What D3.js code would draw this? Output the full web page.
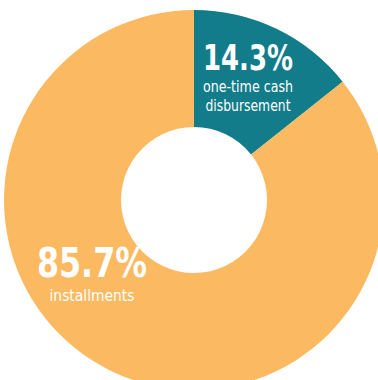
<!DOCTYPE html>
<html>
<head>
    <meta charset="utf-8">
    <script src="https://d3js.org/d3.v7.min.js"></script>
    <style>
        body { margin: 0; background: #fff; }
        text { fill: #fff; font-family: "Liberation Sans Narrow", "DejaVu Sans Condensed", "DejaVu Sans", sans-serif; }
        .pct { font-weight: bold; }
    </style>
</head>
<body>
<script>
// chart data
var categories = ["one-time cash disbursement", "installments"];
var values = [14.3, 85.7];
var pctLabels = ["14.3%", "85.7%"];
var subLabels = [["one-time cash", "disbursement"], ["installments"]];
var colours = ["#127c8a", "#fbba62"];

var w = 378, h = 380;
var cx = 194, cy = 200, outerR = 190, innerR = 73;

var svg = d3.select("body").append("svg")
    .attr("width", w)
    .attr("height", h);

var g = svg.append("g")
    .attr("transform", "translate(" + cx + "," + cy + ")");

var pie = d3.pie().sort(null).value(function(d) { return d; });
var arc = d3.arc().innerRadius(innerR).outerRadius(outerR);

var arcs = pie(values);

g.selectAll("path")
    .data(arcs)
    .enter()
    .append("path")
    .attr("d", arc)
    .attr("fill", function(d, i) { return colours[i]; });

// label layout (relative to centre, big number baseline)
var anchors = [[54, -130], [-102, 77]];
var pctSize = [36, 40];
var pctWidth = [90, 110];
var subSize = [15, 16];
var subWidth = [[90, 85], [85]];
var subY = [[22, 41], [24]];

arcs.forEach(function(d, i) {
    var lg = g.append("g")
        .attr("transform", "translate(" + anchors[i][0] + "," + anchors[i][1] + ")");
    lg.append("text")
        .attr("class", "pct")
        .attr("text-anchor", "middle")
        .attr("font-size", pctSize[i])
        .attr("textLength", pctWidth[i])
        .attr("lengthAdjust", "spacingAndGlyphs")
        .text(pctLabels[i]);
    subLabels[i].forEach(function(s, j) {
        lg.append("text")
            .attr("text-anchor", "middle")
            .attr("y", subY[i][j])
            .attr("font-size", subSize[i])
            .attr("textLength", subWidth[i][j])
            .attr("lengthAdjust", "spacingAndGlyphs")
            .text(s);
    });
});
</script>
</body>
</html>
